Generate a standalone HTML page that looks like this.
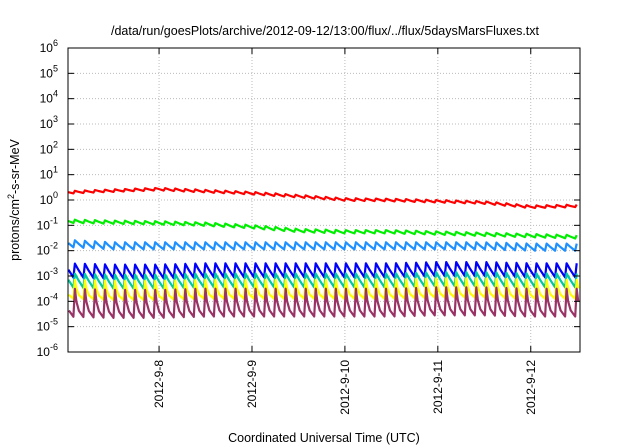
<!DOCTYPE html>
<html><head><meta charset="utf-8"><style>
body{margin:0;background:#fff;}
svg{display:block;font-family:"Liberation Sans",sans-serif;}
</style></head><body>
<svg id="chart" width="640" height="448" viewBox="0 0 640 448">
<text x="325" y="35" font-size="12.5" text-anchor="middle">/data/run/goesPlots/archive/2012-09-12/13:00/flux/../flux/5daysMarsFluxes.txt</text>
<g id="grid"></g>
<g id="series"></g>
<rect x="68" y="48" width="512" height="304" fill="none" stroke="#000" stroke-width="1"/>
<g id="axes"></g>
<text x="324" y="442" font-size="12.5" text-anchor="middle">Coordinated Universal Time (UTC)</text>
<text transform="translate(19,200) rotate(-90)" font-size="12.5" text-anchor="middle">protons/cm<tspan dy="-5" font-size="9">2</tspan><tspan dy="5">-s-sr-MeV</tspan></text>
</svg>
<script>
// data
const xTickLabels = ["2012-9-8","2012-9-9","2012-9-10","2012-9-11","2012-9-12"];
const xTickDays = [8,9,10,11,12];
const yTickExps = [-6,-5,-4,-3,-2,-1,0,1,2,3,4,5,6];
const seriesNames = ["red","green","dodger","blue","teal","yellow","maroon"];
const seriesColors = ["#ff0000","#00ee00","#1e90ff","#0000ff","#00c8a0","#ffff00","#993366"];
// trend (log10 of baseline/trough) sampled at days 7.0,7.5,...,12.5
const trendDays = [7.0,7.5,8.0,8.5,9.0,9.5,10.0,10.5,11.0,11.5,12.0,12.5];
const trendRed =    [0.25,0.32,0.38,0.3,0.22,0.1,-0.03,-0.05,-0.1,-0.15,-0.32,-0.28];
const trendGreen =  [-0.9,-0.94,-0.97,-1.02,-1.12,-1.27,-1.32,-1.32,-1.37,-1.42,-1.47,-1.52];
const trendDodger = [-1.85,-1.95,-1.95,-1.95,-1.95,-1.95,-1.95,-1.95,-1.95,-1.95,-2.0,-2.0];
const trendBlue =   [-3.05,-3.1,-3.1,-3.05,-3.05,-3.05,-3.05,-3.05,-3.0,-3.0,-3.05,-3.05];
const trendTeal =   [-3.45,-3.5,-3.5,-3.45,-3.45,-3.45,-3.45,-3.45,-3.4,-3.4,-3.45,-3.45];
const trendYellow = [-3.9,-3.95,-3.95,-3.9,-3.9,-3.9,-3.9,-3.9,-3.85,-3.85,-3.9,-3.9];
const trendMaroon = [-4.6,-4.65,-4.65,-4.6,-4.6,-4.6,-4.6,-4.6,-4.55,-4.55,-4.6,-4.6];
// sawtooth amplitude (decades) per series
const amplitudes = [0.1,0.13,0.28,0.55,0.55,0.75,1.1];
const cycleDays = 0.108;

const NS="http://www.w3.org/2000/svg";
const X0=68,X1=580,Y0=48,Y1=352,D0=7.02,D1=12.53;
const xs=d=>X0+(d-D0)/(D1-D0)*(X1-X0);
const ys=e=>Y1-(e+6)/12*(Y1-Y0);
function mk(t,a,p){const e=document.createElementNS(NS,t);for(const k in a)e.setAttribute(k,a[k]);p.appendChild(e);return e;}
const grid=document.getElementById('grid'),axes=document.getElementById('axes'),ser=document.getElementById('series');
yTickExps.forEach(e=>{const y=ys(e);
 if(e>-6&&e<6){const l=mk('line',{x1:X0,x2:X1,y1:y,y2:y,stroke:'#bbb','stroke-dasharray':'1,2'},grid);
 }
 const t1=mk('line',{x1:X0,x2:X0+6,y1:y,y2:y,stroke:'#000'},axes);
 const t2=mk('line',{x1:X1-6,x2:X1,y1:y,y2:y,stroke:'#000'},axes);
 const tx=mk('text',{x:58,y:y+4,'font-size':12,'text-anchor':'end'},axes);
 
 tx.textContent='10';const s=mk('tspan',{dy:-6,'font-size':9},tx);s.textContent=String(e);
});
xTickDays.forEach((d,i)=>{const x=xs(d);
 const l=mk('line',{x1:x,x2:x,y1:Y0,y2:Y1,stroke:'#bbb','stroke-dasharray':'1,2'},grid);
 
 const t1=mk('line',{x1:x,x2:x,y1:Y1,y2:Y1-6,stroke:'#000'},axes);
 const t2=mk('line',{x1:x,x2:x,y1:Y0,y2:Y0+6,stroke:'#000'},axes);
 const tx=mk('text',{transform:`translate(${x+4},360) rotate(-90)`,'font-size':12,'text-anchor':'end'},axes);
 
 tx.textContent=xTickLabels[i];
});
function trendAt(arr,d){let i=Math.min(Math.floor((d-trendDays[0])/0.5),trendDays.length-2);i=Math.max(i,0);
 const f=(d-trendDays[i])/(trendDays[i+1]-trendDays[i]);return arr[i]+(arr[i+1]-arr[i])*f;}
const trends=[trendRed,trendGreen,trendDodger,trendBlue,trendTeal,trendYellow,trendMaroon];
trends.forEach((tr,si)=>{const amp=amplitudes[si];let pts=[];
 const curved=si>=5;
 for(let c=D0-0.05;c<D1;c+=cycleDays){
  const rise=c+cycleDays*0.15;
  const shape=curved?[[c,0],[rise,1],[rise+cycleDays*0.15,0.55],[rise+cycleDays*0.4,0.22],[c+cycleDays,0]]
                    :[[c,0],[rise,1],[rise+cycleDays*0.35,0.55],[c+cycleDays,0]];
  shape.forEach(([d,k])=>{
   if(d>=D0&&d<=D1)pts.push(xs(d).toFixed(1)+','+ys(trendAt(tr,d)+amp*k).toFixed(1));});
 }
 const p=mk('polyline',{points:pts.join(' '),fill:'none',stroke:seriesColors[si],'stroke-width':2.2,'stroke-linejoin':'round'},ser);
 
 
});
</script>
</body></html>
